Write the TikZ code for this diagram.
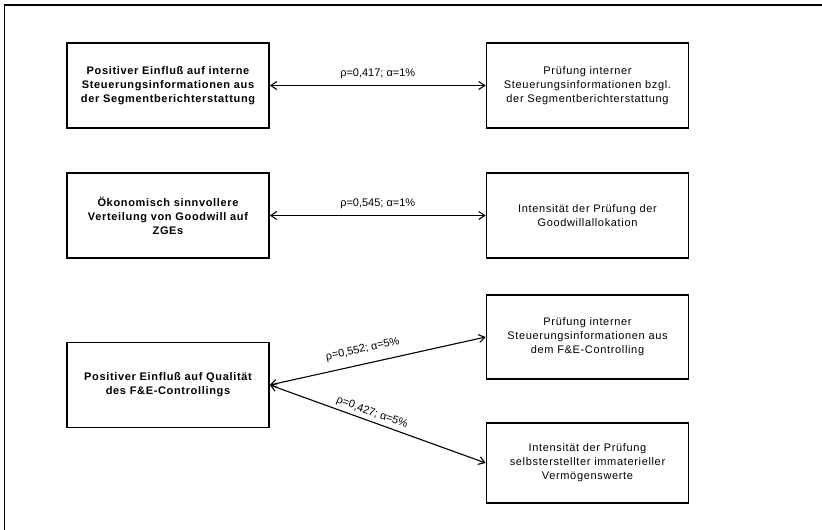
\documentclass[tikz,border=0pt]{standalone}
\usepackage{fontspec}
\setmainfont{Liberation Sans}[LetterSpace=6]
\newfontfamily\labelfont{Liberation Sans}
\usetikzlibrary{arrows.meta}
\begin{document}
\begin{tikzpicture}[x=1pt,y=-1pt,
  box/.style={draw, line width=1.6pt, minimum width=202pt, minimum height=85pt,
    align=center, inner sep=0pt, font=\fontsize{11}{14}\selectfont},
  causebox/.style={box, font=\fontsize{11}{14}\selectfont\bfseries},
  link/.style={line width=1.1pt,
    {Straight Barb[length=6pt,width=8pt]}-{Straight Barb[length=6pt,width=8pt]}},
  lbl/.style={font=\labelfont\fontsize{11}{12}\selectfont, inner sep=1pt}]
\useasboundingbox (0,0) rectangle (822,530);

% frame
\draw[line width=2.2pt] (3.5,5) -- (822,5);
\draw[line width=1.2pt] (4.5,5) -- (4.5,530);

% influencing factors (left) and audit aspects (right)
\node[causebox] (c1) at (168,85.5) {Positiver Einfluß auf interne\\Steuerungsinformationen aus\\der Segmentberichterstattung};
\node[box] (e1) at (587.5,85.5) {Prüfung interner\\Steuerungsinformationen bzgl.\\der Segmentberichterstattung};

\node[causebox] (c2) at (168,215.5) {Ökonomisch sinnvollere\\Verteilung von Goodwill auf\\ZGEs};
\node[box] (e2) at (587.5,215.5) {Intensität der Prüfung der\\Goodwillallokation};

\node[causebox] (c3) at (168,385) {Positiver Einfluß auf Qualität\\des F\&E-Controllings};
\node[box, minimum height=84pt] (e3) at (587.5,337) {Prüfung interner\\Steuerungsinformationen aus\\dem F\&E-Controlling};
\node[box, minimum height=80pt] (e4) at (587.5,463) {Intensität der Prüfung\\selbsterstellter immaterieller\\Vermögenswerte};

% correlations
\draw[link] (c1.east) -- node[lbl, above=5pt] (l1) {ρ=0,417; α=1\%} (e1.west);
\draw[link] (c2.east) -- node[lbl, above=5pt] (l2) {ρ=0,545; α=1\%} (e2.west);
\draw[link] (c3.east) -- node[lbl, pos=0.445, sloped, above=8pt] (l3) {ρ=0,552; α=5\%} (e3.west);
\draw[link] (c3.east) -- node[lbl, pos=0.46, sloped, above=2pt] (l4) {ρ=0,427; α=5\%} (e4.west);
\end{tikzpicture}
\end{document}
